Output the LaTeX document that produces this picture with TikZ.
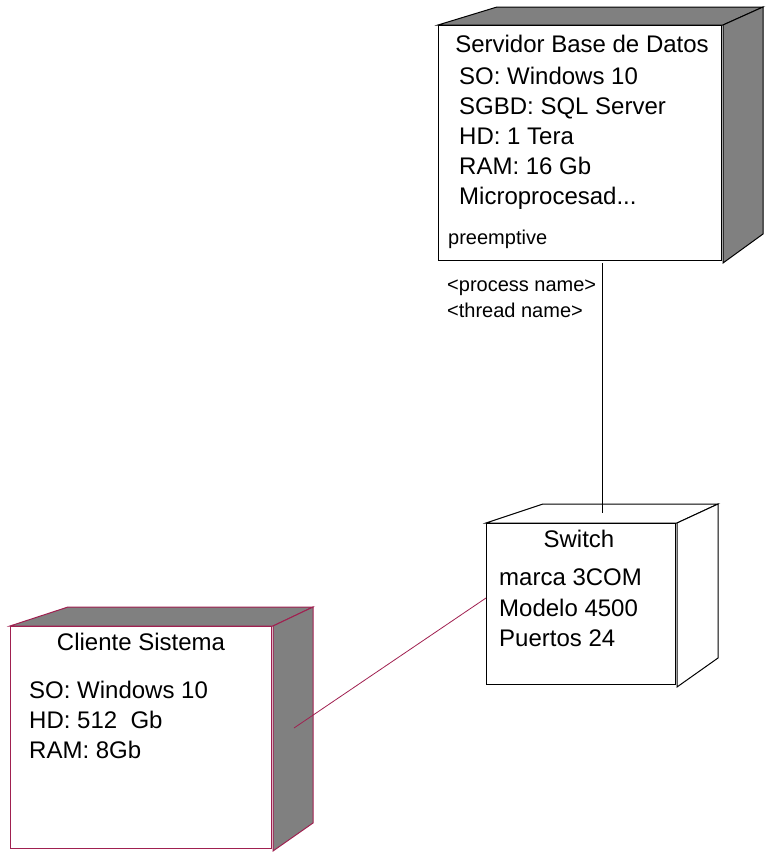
\documentclass[tikz,border=0pt]{standalone}
\usepackage{fontspec}
\setmainfont{Liberation Sans}
\definecolor{clientline}{RGB}{160,32,80}
\definecolor{nodeshade}{RGB}{128,128,128}
\begin{document}
\begin{tikzpicture}[x=1pt,y=-1pt,
  front/.style={draw,fill=white,line width=1pt,rectangle,anchor=north west,inner sep=0pt},
  faceshade/.style={draw,fill=nodeshade,line width=1pt,line join=miter},
  faceplain/.style={draw,fill=white,line width=1pt,line join=miter},
  big/.style={font=\fontsize{24}{28}\selectfont,inner sep=0pt},
  small/.style={font=\fontsize{20}{23}\selectfont,inner sep=0pt},
  link/.style={line width=0.8pt}]
\useasboundingbox (0,0) rectangle (769,854);

% --- database server node ---
\path[faceshade] (438,25) -- (497,7) -- (763,7) -- (723,25) -- cycle;
\path[faceshade] (723,25) -- (763,7) -- (763,234) -- (723,263) -- cycle;
\node[front, minimum width=283pt, minimum height=235pt] (srv) at (438,25) {};
\node[big, anchor=base] (srvtitle) at (582,52) {Servidor Base de Datos};
\node[big, anchor=base west] (srvso) at (459,84) {SO: Windows 10};
\node[big, anchor=base west] (srvdb) at (459,114) {SGBD: SQL Server};
\node[big, anchor=base west] (srvhd) at (459,144) {HD: 1 Tera};
\node[big, anchor=base west] (srvram) at (459,174) {RAM: 16 Gb};
\node[big, anchor=base west] (srvcpu) at (459,204) {Microprocesad...};
\node[small, anchor=base west] (srvsched) at (448,244) {preemptive};
\node[small, anchor=base west] (srvproc) at (447,291) {<process name>};
\node[small, anchor=base west] (srvthread) at (447,317) {<thread name>};

% --- switch node ---
\path[faceplain] (486,523) -- (543,504) -- (718,504) -- (677,523) -- cycle;
\path[faceplain] (677,523) -- (718,504) -- (718,658) -- (677,687) -- cycle;
\node[front, minimum width=189pt, minimum height=161pt] (sw) at (486,523) {};
\node[big, anchor=base] (swtitle) at (579,547) {Switch};
\node[big, anchor=base west] (swbrand) at (499,585) {marca 3COM};
\node[big, anchor=base west] (swmodel) at (499,616) {Modelo 4500};
\node[big, anchor=base west] (swports) at (499,646) {Puertos 24};

% --- client node ---
\path[faceshade, draw=clientline] (10,626) -- (68,607) -- (313,607) -- (273,626) -- cycle;
\path[faceshade, draw=clientline] (273,626) -- (313,607) -- (313,823) -- (273,851) -- cycle;
\node[front, draw=clientline, minimum width=261pt, minimum height=222pt] (cl) at (10,626) {};
\node[big, anchor=base] (cltitle) at (141,650) {Cliente Sistema};
\node[big, anchor=base west] (clso) at (29,698) {SO: Windows 10};
\node[big, anchor=base west] (clhd) at (29,728) {HD: 512\ \ Gb};
\node[big, anchor=base west] (clram) at (29,758) {RAM: 8Gb};

% --- connections ---
\coordinate (srvfoot) at (602,263);
\coordinate (swtop) at (602,513);
\draw[link] (srvfoot) -- (swtop);
\coordinate (clhook) at (294,728);
\coordinate (swleft) at (486,598);
\draw[link, draw=clientline] (clhook) -- (swleft);
\end{tikzpicture}
\end{document}
